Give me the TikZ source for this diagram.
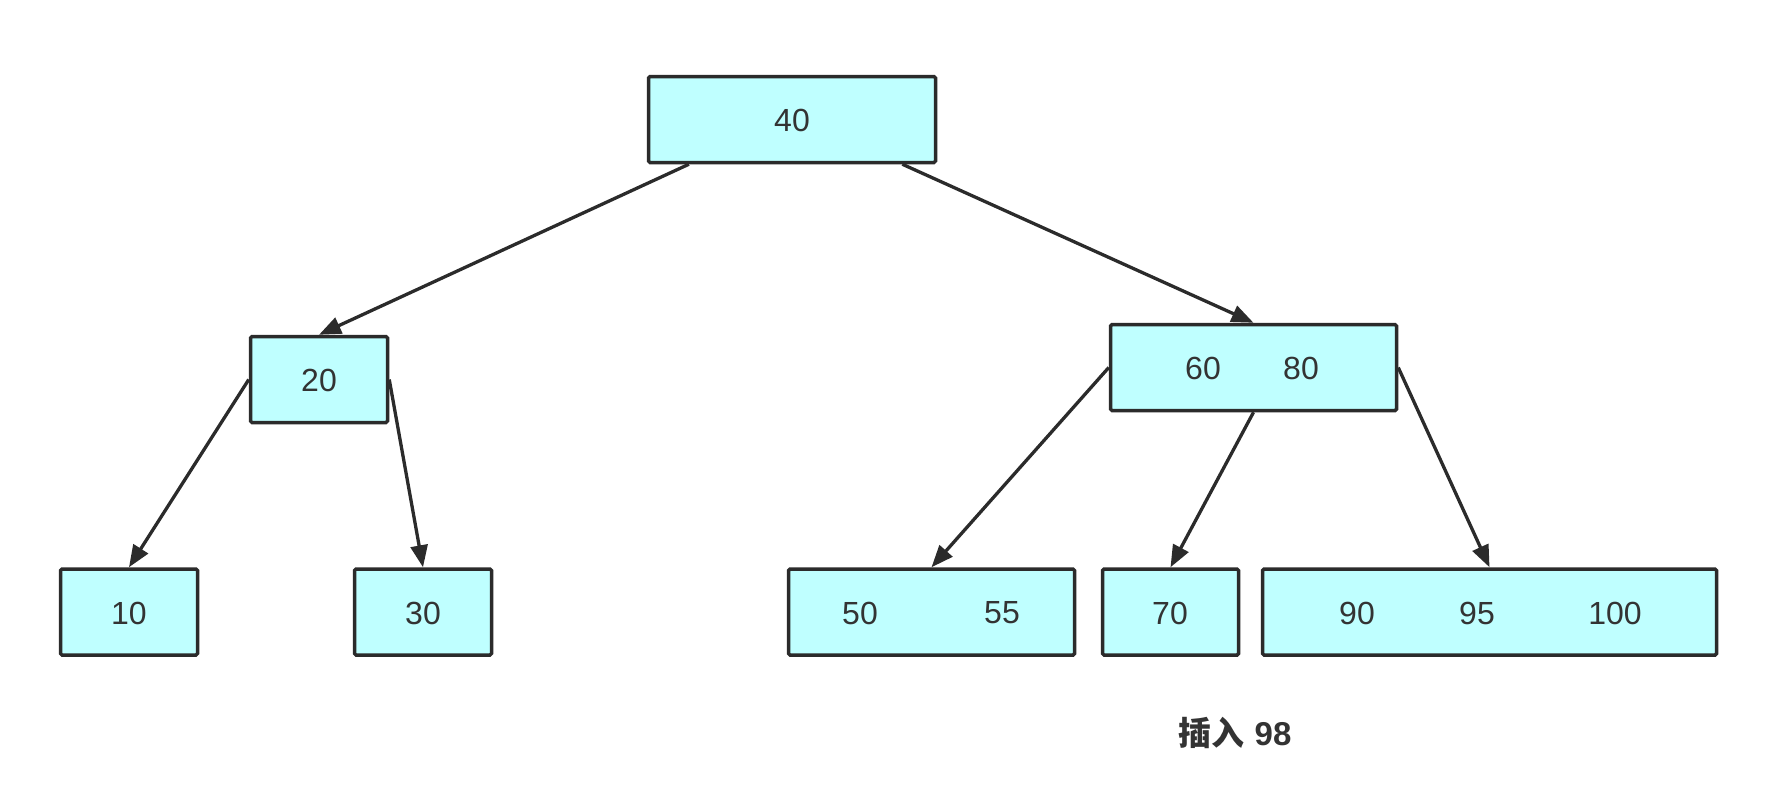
\documentclass[tikz,border=0pt]{standalone}
\usepackage{fontspec}
\setmainfont{Liberation Sans}
\newfontfamily\cjkfont{Noto Sans CJK SC}
\usetikzlibrary{arrows.meta,calc}
\definecolor{linec}{HTML}{2B2B2B}
\definecolor{boxfill}{HTML}{BFFFFF}
\definecolor{textc}{HTML}{333333}
\begin{document}
\begin{tikzpicture}[x=1pt,y=-1pt,
  box/.style={draw=linec, fill=boxfill, line width=3.5pt, rounded corners=1.5pt,
    minimum width=#1, minimum height=86pt, inner sep=0pt},
  key/.style={text=textc, font=\fontsize{32}{36}\selectfont, inner sep=0pt},
  link/.style={draw=linec, line width=3.3pt, -{Triangle[length=22pt,width=17pt]}}]
\useasboundingbox (0,0) rectangle (1784,796);
% boxes
\node[box=287pt] (root) at (792,119.5) {};
\node[box=137pt] (n20) at (319,379.5) {};
\node[box=286pt] (n6080) at (1253.5,367.5) {};
\node[box=137pt] (n10) at (129,612) {};
\node[box=137pt] (n30) at (423,612) {};
\node[box=286pt] (n5055) at (931.5,612) {};
\node[box=136pt] (n70) at (1170.5,612) {};
\node[box=454pt] (n90) at (1489.5,612) {};
% keys
\node[key] (k40) at (792,120) {40};
\node[key] (k20) at (319,380) {20};
\node[key] (k60) at (1203,368) {60};
\node[key] (k80) at (1301,368) {80};
\node[key] (k10) at (129,613) {10};
\node[key] (k30) at (423,613) {30};
\node[key] (k50) at (860,613) {50};
\node[key] (k55) at (1002,613) {55};
\node[key] (k70) at (1170,613) {70};
\node[key] (k90) at (1357,613) {90};
\node[key] (k95) at (1477,613) {95};
\node[key] (k100) at (1615,613) {100};
% caption
\node[text=textc, inner sep=0pt] (cap) at (1235,733)
  {\fontsize{33}{38}\selectfont{\cjkfont\bfseries 插入}\hspace{10pt}\bfseries 98};
% links
\draw[link] ($(root.south west)!0.145!(root.south east)$) -- (n20.north);
\draw[link] ($(root.south west)!0.88!(root.south east)$) -- (n6080.north);
\draw[link] (n20.west) -- (n10.north);
\draw[link] (n20.east) -- (n30.north);
\draw[link] (n6080.west) -- (n5055.north);
\draw[link] (n6080.south) -- (n70.north);
\draw[link] (n6080.east) -- (n90.north);
\end{tikzpicture}
\end{document}
